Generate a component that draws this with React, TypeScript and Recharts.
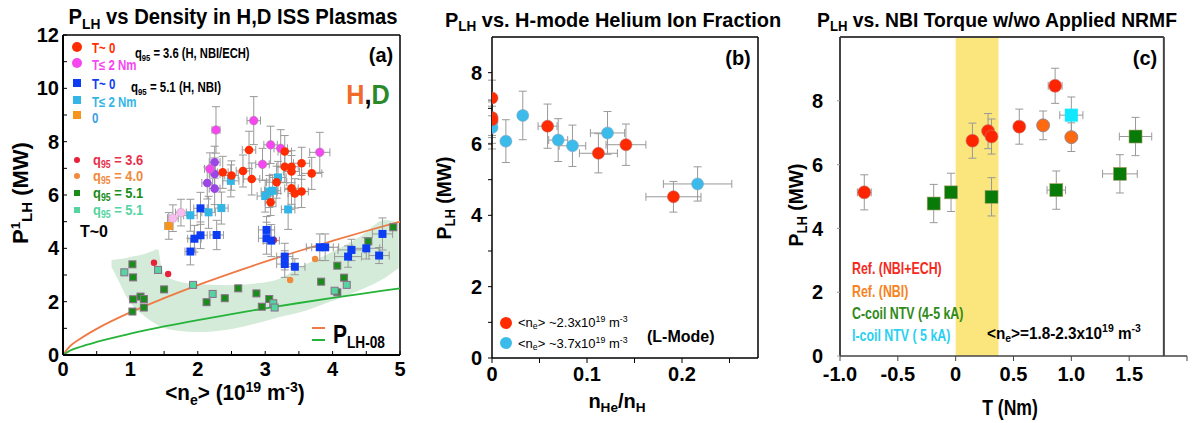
import React from 'react';
import { ComposedChart, Scatter, Line, Area, XAxis, YAxis, ErrorBar, ReferenceLine, ReferenceArea } from 'recharts';

const FONT = "'Liberation Sans', Arial, Helvetica, sans-serif";

// ---------- panel (a): P_LH vs density ----------
const aXTicks = [0, 0.5, 1, 1.5, 2, 2.5, 3, 3.5, 4, 4.5, 5];
const aYTicks = [0, 1, 2, 3, 4, 5, 6, 7, 8, 9, 10, 11, 12];

const aRedT0 = [
  { x: 2.37, y: 6.85, ex: 0.08, ey: 0.6 }, { x: 2.5, y: 6.73, ex: 0.1, ey: 0.55 },
  { x: 2.67, y: 6.9, ex: 0.1, ey: 0.6 }, { x: 2.76, y: 7.69, ex: 0.1, ey: 0.7 },
  { x: 2.8, y: 6.6, ex: 0.12, ey: 0.6 }, { x: 3.08, y: 5.73, ex: 0.08, ey: 0.5 },
  { x: 3.17, y: 6.48, ex: 0.15, ey: 0.6 }, { x: 3.29, y: 7.63, ex: 0.1, ey: 0.6 },
  { x: 3.29, y: 7.06, ex: 0.12, ey: 0.6 }, { x: 3.39, y: 7.06, ex: 0.1, ey: 0.6 },
  { x: 3.39, y: 6.88, ex: 0.12, ey: 0.6 }, { x: 3.39, y: 6.25, ex: 0.1, ey: 0.6 },
  { x: 3.44, y: 6.06, ex: 0.1, ey: 0.55 }, { x: 3.54, y: 7.19, ex: 0.12, ey: 0.6 },
  { x: 3.54, y: 6.13, ex: 0.1, ey: 0.6 }, { x: 3.69, y: 6.81, ex: 0.15, ey: 0.6 },
];
const aMagenta = [
  { x: 2.27, y: 8.44, ex: 0.06, ey: 0.87 }, { x: 2.83, y: 8.79, ex: 0.1, ey: 0.9 },
  { x: 3.08, y: 7.88, ex: 0.1, ey: 0.7 }, { x: 2.96, y: 7.15, ex: 0.1, ey: 0.6 },
  { x: 3.23, y: 7.75, ex: 0.1, ey: 0.7 }, { x: 3.81, y: 7.6, ex: 0.15, ey: 0.75 },
  { x: 2.18, y: 6.98, ex: 0.08, ey: 0.6 },
];
const aPurple = [
  { x: 2.25, y: 7.23, ex: 0.08, ey: 0.6 }, { x: 2.25, y: 6.79, ex: 0.08, ey: 0.6 },
  { x: 2.14, y: 6.45, ex: 0.08, ey: 0.6 }, { x: 2.25, y: 6.24, ex: 0.08, ey: 0.6 },
];
const aPink = [
  { x: 1.63, y: 5.13, ex: 0.08, ey: 0.5 }, { x: 1.75, y: 5.34, ex: 0.08, ey: 0.5 },
];
const aOrangeSq = [{ x: 1.57, y: 4.84, ex: 0.06, ey: 0.5 }];
const aCyanSq = [
  { x: 1.89, y: 5.24, ex: 0.1, ey: 0.6 }, { x: 2.16, y: 5.35, ex: 0.1, ey: 0.6 },
  { x: 2.35, y: 5.51, ex: 0.1, ey: 0.6 }, { x: 2.49, y: 6.53, ex: 0.12, ey: 0.6 },
  { x: 3.0, y: 5.96, ex: 0.12, ey: 0.6 }, { x: 3.06, y: 6.13, ex: 0.12, ey: 0.6 },
  { x: 3.11, y: 6.16, ex: 0.12, ey: 0.6 }, { x: 3.19, y: 6.66, ex: 0.12, ey: 0.6 },
  { x: 3.34, y: 5.46, ex: 0.1, ey: 0.75 },
];
const aBlueSq = [
  { x: 2.04, y: 5.5, ex: 0.1, ey: 0.6 }, { x: 1.95, y: 4.36, ex: 0.1, ey: 0.5 },
  { x: 2.04, y: 4.49, ex: 0.1, ey: 0.5 }, { x: 2.28, y: 4.5, ex: 0.1, ey: 0.55 },
  { x: 1.89, y: 3.88, ex: 0.08, ey: 0.5 }, { x: 3.02, y: 4.69, ex: 0.12, ey: 0.5 },
  { x: 3.02, y: 4.38, ex: 0.12, ey: 0.6 }, { x: 3.09, y: 4.29, ex: 0.12, ey: 0.6 },
  { x: 3.29, y: 3.69, ex: 0.12, ey: 0.5 }, { x: 3.29, y: 3.41, ex: 0.12, ey: 0.5 },
  { x: 3.44, y: 3.31, ex: 0.15, ey: 0.3 }, { x: 3.81, y: 4.04, ex: 0.2, ey: 0.5 },
  { x: 3.89, y: 4.04, ex: 0.2, ey: 0.5 }, { x: 4.23, y: 3.69, ex: 0.2, ey: 0.4 },
  { x: 4.28, y: 3.94, ex: 0.2, ey: 0.4 }, { x: 4.5, y: 4.0, ex: 0.2, ey: 0.4 },
  { x: 4.69, y: 3.73, ex: 0.15, ey: 0.3 }, { x: 4.74, y: 4.54, ex: 0.15, ey: 0.6 },
];
const aSmallRed = [{ x: 1.35, y: 3.46 }, { x: 1.56, y: 3.04 }, { x: 3.13, y: 4.31 }];
const aSmallOrange = [{ x: 3.37, y: 2.81 }, { x: 3.74, y: 3.6 }];
const aGreenSq = [
  { x: 1.03, y: 3.4 }, { x: 1.04, y: 2.91 }, { x: 1.04, y: 2.09 }, { x: 1.03, y: 1.63 },
  { x: 1.15, y: 2.19 }, { x: 1.2, y: 2.1 }, { x: 1.2, y: 1.78 }, { x: 1.5, y: 2.46 },
  { x: 2.13, y: 1.98 }, { x: 2.4, y: 2.13 }, { x: 2.6, y: 2.5 }, { x: 2.87, y: 2.31 },
  { x: 2.95, y: 1.81 }, { x: 3.06, y: 2.1 }, { x: 3.83, y: 2.75 }, { x: 4.07, y: 3.35 },
  { x: 4.07, y: 2.35 }, { x: 4.17, y: 2.9 }, { x: 4.53, y: 4.26 }, { x: 4.9, y: 4.79 },
];
const aLightGreenSq = [
  { x: 0.91, y: 3.1 }, { x: 1.41, y: 3.19 }, { x: 1.93, y: 2.63 }, { x: 2.22, y: 2.29 },
  { x: 3.12, y: 1.94 }, { x: 3.14, y: 1.78 }, { x: 4.03, y: 2.41 }, { x: 4.21, y: 2.63 },
];
// shaded band (low, high)
const aBand = [
  { x: 0.72, range: [3.3, 3.56] }, { x: 0.85, range: [2.65, 3.6] },
  { x: 0.94, range: [2.19, 3.64] }, { x: 1.05, range: [1.8, 3.7] },
  { x: 1.19, range: [1.5, 3.78] }, { x: 1.3, range: [1.28, 3.87] },
  { x: 1.41, range: [1.12, 3.97] }, { x: 1.46, range: [1.06, 3.3] },
  { x: 1.53, range: [0.99, 2.97] }, { x: 1.73, range: [0.9, 2.75] },
  { x: 2.0, range: [0.86, 2.65] }, { x: 2.43, range: [0.95, 2.62] },
  { x: 2.92, range: [1.22, 2.7] }, { x: 3.17, range: [1.4, 2.82] },
  { x: 3.52, range: [1.6, 3.3] }, { x: 3.91, range: [1.95, 3.76] },
  { x: 4.41, range: [2.44, 4.44] }, { x: 4.78, range: [2.9, 5.06] },
  { x: 4.98, range: [3.25, 4.94] },
];
const aFitH = [
  { x: 0, y: 0 }, { x: 0.1, y: 0.32 }, { x: 0.25, y: 0.6 }, { x: 0.5, y: 0.98 },
  { x: 1, y: 1.6 }, { x: 1.5, y: 2.13 }, { x: 2, y: 2.62 }, { x: 2.5, y: 3.07 },
  { x: 3, y: 3.5 }, { x: 3.5, y: 3.9 }, { x: 4, y: 4.28 }, { x: 4.5, y: 4.65 }, { x: 5, y: 5.0 },
];
const aFitD = [
  { x: 0, y: 0 }, { x: 0.1, y: 0.16 }, { x: 0.25, y: 0.3 }, { x: 0.5, y: 0.49 },
  { x: 1, y: 0.8 }, { x: 1.5, y: 1.07 }, { x: 2, y: 1.31 }, { x: 2.5, y: 1.53 },
  { x: 3, y: 1.75 }, { x: 3.5, y: 1.95 }, { x: 4, y: 2.14 }, { x: 4.5, y: 2.32 }, { x: 5, y: 2.5 },
];

// ---------- panel (b): P_LH vs helium fraction ----------
const bXTicks = [0, 0.05, 0.1, 0.15, 0.2, 0.25];
const bXLabels: Record<string, string> = { '0': '0', '0.1': '0.1', '0.2': '0.2' };
const bYTicks = [0, 1, 2, 3, 4, 5, 6, 7, 8];
const bRed = [
  { x: 0, y: 7.29, ex: 0, ey: 0.5 }, { x: 0, y: 6.74, ex: 0, ey: 0.5 },
  { x: 0, y: 6.68, ex: 0, ey: 0.5 }, { x: 0.0585, y: 6.5, ex: 0.01, ey: 0.62 },
  { x: 0.112, y: 5.74, ex: 0.02, ey: 0.55 }, { x: 0.141, y: 5.98, ex: 0.021, ey: 0.58 },
  { x: 0.191, y: 4.52, ex: 0.029, ey: 0.43 },
];
const bBlue = [
  { x: 0, y: 6.62, ex: 0, ey: 0.6 }, { x: 0, y: 6.46, ex: 0, ey: 0.6 },
  { x: 0.0146, y: 6.08, ex: 0, ey: 0.6 }, { x: 0.0324, y: 6.8, ex: 0, ey: 0.68 },
  { x: 0.0697, y: 6.11, ex: 0.01, ey: 0.6 }, { x: 0.0847, y: 5.95, ex: 0.014, ey: 0.58 },
  { x: 0.1216, y: 6.31, ex: 0.018, ey: 0.6 }, { x: 0.2164, y: 4.88, ex: 0.036, ey: 0.48 },
];

// ---------- panel (c): P_LH vs NBI torque ----------
const cXTicks = [-1, -0.5, 0, 0.5, 1, 1.5, 2];
const cXLabels: Record<string, string> = { '-1': '-1.0', '-0.5': '-0.5', '0': '0', '0.5': '0.5', '1': '1.0', '1.5': '1.5' };
const cYTicks = [0, 2, 4, 6, 8];
const cRed = [
  { x: -0.79, y: 5.13, ex: 0.06, ey: 0.55 }, { x: 0.145, y: 6.75, ex: 0.02, ey: 0.55 },
  { x: 0.28, y: 7.05, ex: 0.02, ey: 0.55 }, { x: 0.31, y: 6.88, ex: 0.02, ey: 0.55 },
  { x: 0.55, y: 7.19, ex: 0.03, ey: 0.55 }, { x: 0.86, y: 8.47, ex: 0.06, ey: 0.55 },
];
const cOrange = [{ x: 0.756, y: 7.23, ex: 0.02, ey: 0.45 }, { x: 1.0, y: 6.86, ex: 0.02, ey: 0.45 }];
const cCyan = [{ x: 1.0, y: 7.55, ex: 0.1, ey: 0.57 }];
const cGreen = [
  { x: -0.19, y: 4.78, ex: 0.02, ey: 0.6 }, { x: -0.04, y: 5.13, ex: 0.02, ey: 0.6 },
  { x: 0.31, y: 4.99, ex: 0.02, ey: 0.6 }, { x: 0.87, y: 5.2, ex: 0.08, ey: 0.6 },
  { x: 1.42, y: 5.71, ex: 0.15, ey: 0.6 }, { x: 1.555, y: 6.88, ex: 0.14, ey: 0.6 },
];

// ---------- helpers ----------
const circle = (r: number, fill: string, stroke = 'none', sw = 0) => (p: any) =>
  <circle cx={p.cx} cy={p.cy} r={r} fill={fill} stroke={stroke} strokeWidth={sw} />;
const square = (s: number, fill: string, stroke = 'none', sw = 0) => (p: any) =>
  <rect x={p.cx - s / 2} y={p.cy - s / 2} width={s} height={s} fill={fill} stroke={stroke} strokeWidth={sw} />;

const errs = (
  [<ErrorBar key="ey" dataKey="ey" direction="y" width={4} stroke="#999" strokeWidth={1} />,
   <ErrorBar key="ex" dataKey="ex" direction="x" width={4} stroke="#999" strokeWidth={1} />]
);

const Sub = ({ children, s = 0.68, d = -0.3 }: any) =>
  <span style={{ fontSize: `${s}em`, verticalAlign: `${d}em` }}>{children}</span>;
const Sup = ({ children, s = 0.68, d = 0.55 }: any) =>
  <span style={{ fontSize: `${s}em`, verticalAlign: `${d}em` }}>{children}</span>;

function Txt({ x, y, size = 14, color = '#000', weight = 700, align = 'left', sx = 1, rotate = false, children }: any) {
  const tx = align === 'center' ? -50 : align === 'right' ? -100 : 0;
  const origin = align === 'center' ? '50% 50%' : align === 'right' ? '100% 50%' : '0 50%';
  return (
    <div style={{
      position: 'absolute', left: x, top: y, whiteSpace: 'nowrap', lineHeight: 1,
      fontFamily: FONT, fontSize: size, fontWeight: weight, color,
      transform: `translate(${tx}%, -50%) ${rotate ? 'rotate(-90deg)' : ''} scaleX(${sx})`,
      transformOrigin: origin,
    }}>{children}</div>
  );
}

function Mark({ x, y, s, color, round }: any) {
  return <div style={{ position: 'absolute', left: x - s / 2, top: y - s / 2, width: s, height: s, background: color, borderRadius: round ? '50%' : 0 }} />;
}

const tickStyle = { fontSize: 20, fontWeight: 700, fill: '#000', fontFamily: FONT };

function PanelA() {
  return (
    <ComposedChart width={410} height={423} data={aBand} margin={{ top: 35, right: 10, bottom: 38, left: 23 }}>
      <XAxis type="number" dataKey="x" domain={[0, 5]} ticks={aXTicks} interval={0} height={30}
        tickFormatter={(v: number) => (Number.isInteger(v) ? String(v) : '')}
        tickSize={-4} tickMargin={11} tick={tickStyle}
        axisLine={{ stroke: '#000', strokeWidth: 2 }} tickLine={{ stroke: '#000' }} />
      <YAxis type="number" dataKey="y" domain={[0, 12]} ticks={aYTicks} interval={0} width={40}
        tickFormatter={(v: number) => (v % 2 === 0 ? String(v) : '')}
        tickSize={-4} tickMargin={8} tick={tickStyle}
        axisLine={{ stroke: '#000', strokeWidth: 2 }} tickLine={{ stroke: '#000' }} />
      <Area dataKey="range" type="monotone" fill="#d3ebd8" fillOpacity={1} stroke="none" isAnimationActive={false} />
      <ReferenceLine y={12} stroke="#000" strokeWidth={1.5} />
      <ReferenceLine x={5} stroke="#000" strokeWidth={1.5} />
      <Line data={aFitH} dataKey="y" type="monotone" stroke="#ef7a45" strokeWidth={1.8} dot={false} isAnimationActive={false} />
      <Line data={aFitD} dataKey="y" type="monotone" stroke="#25b33a" strokeWidth={1.8} dot={false} isAnimationActive={false} />
      <Scatter data={aGreenSq} shape={square(7, '#1a8c1a', '#8c6c8c', 1)} isAnimationActive={false} />
      <Scatter data={aLightGreenSq} shape={square(7, '#55d4a0', '#8c6c8c', 1)} isAnimationActive={false} />
      <Scatter data={aSmallRed} shape={circle(3.2, '#e8203a')} isAnimationActive={false} />
      <Scatter data={aSmallOrange} shape={circle(3.2, '#f08a3c')} isAnimationActive={false} />
      <Scatter data={aBlueSq} shape={square(8, '#0d3cf5')} isAnimationActive={false}>{errs}</Scatter>
      <Scatter data={aCyanSq} shape={square(8, '#33b5e5')} isAnimationActive={false}>{errs}</Scatter>
      <Scatter data={aOrangeSq} shape={square(8, '#f7941d')} isAnimationActive={false}>{errs}</Scatter>
      <Scatter data={aPink} shape={circle(4.3, '#f8bdf0', '#c9a0c0', 0.6)} isAnimationActive={false}>{errs}</Scatter>
      <Scatter data={aPurple} shape={circle(4.3, '#9b45e6')} isAnimationActive={false}>{errs}</Scatter>
      <Scatter data={aMagenta} shape={circle(4.3, '#f546f0', '#b080b0', 0.6)} isAnimationActive={false}>{errs}</Scatter>
      <Scatter data={aRedT0} shape={circle(4.3, '#ff2d00')} isAnimationActive={false}>{errs}</Scatter>
    </ComposedChart>
  );
}

function PanelB() {
  return (
    <ComposedChart width={360} height={423} margin={{ top: 37, right: 12, bottom: 35, left: 42 }}>
      <XAxis type="number" dataKey="x" domain={[0, 0.28]} ticks={bXTicks} interval={0} height={30}
        tickFormatter={(v: number) => bXLabels[String(v)] ?? ''} allowDataOverflow
        tickSize={5} tickMargin={4} tick={tickStyle}
        axisLine={{ stroke: '#000', strokeWidth: 1.5 }} tickLine={{ stroke: '#000' }} />
      <YAxis type="number" dataKey="y" domain={[0, 9]} ticks={bYTicks} interval={0} width={40}
        tickFormatter={(v: number) => (v % 2 === 0 ? String(v) : '')}
        tickSize={4} tickMargin={6} tick={tickStyle}
        axisLine={{ stroke: '#000', strokeWidth: 1.5 }} tickLine={{ stroke: '#000' }} />
      <ReferenceLine y={9} stroke="#000" strokeWidth={1.5} />
      <ReferenceLine x={0.28} stroke="#000" strokeWidth={1.5} />
      <Scatter data={bBlue} shape={circle(6, '#3bbbea', '#8aa6c0', 0.6)} isAnimationActive={false}>{errs}</Scatter>
      <Scatter data={bRed} shape={circle(6, '#ff2a00', '#c06060', 0.6)} isAnimationActive={false}>{errs}</Scatter>
    </ComposedChart>
  );
}

function PanelC() {
  return (
    <ComposedChart width={423} height={423} margin={{ top: 37, right: 6, bottom: 37, left: 30 }}>
      <XAxis type="number" dataKey="x" domain={[-1, 2]} ticks={cXTicks} interval={0} height={30}
        tickFormatter={(v: number) => cXLabels[String(v)] ?? ''}
        tickSize={5} tickMargin={6} tick={{ ...tickStyle, fontSize: 20 }}
        axisLine={{ stroke: '#444', strokeWidth: 1.5 }} tickLine={{ stroke: '#444' }} />
      <YAxis type="number" dataKey="y" domain={[0, 10]} ticks={cYTicks} interval={0} width={40}
        tickSize={3} tickMargin={14} tick={tickStyle}
        axisLine={{ stroke: '#444', strokeWidth: 2 }} tickLine={{ stroke: '#999' }} />
      <ReferenceArea x1={0} x2={0.37} y1={0} y2={10} fill="#fae67c" fillOpacity={1} stroke="none" />
      <ReferenceLine segment={[{ x: -1, y: 10 }, { x: 1.8, y: 10 }]} stroke="#444" strokeWidth={2} />
      <ReferenceLine segment={[{ x: 1.8, y: 0 }, { x: 1.8, y: 10 }]} stroke="#444" strokeWidth={2} />
      <Scatter data={cGreen} shape={square(13, '#087a08', '#b0a070', 0.6)} isAnimationActive={false}>{errs}</Scatter>
      <Scatter data={cRed} shape={circle(6.5, '#ff2400', '#c08080', 0.6)} isAnimationActive={false}>{errs}</Scatter>
      <Scatter data={cOrange} shape={circle(6.5, '#ff6a10', '#8080a0', 0.8)} isAnimationActive={false}>{errs}</Scatter>
      <Scatter data={cCyan} shape={square(13, '#10e8ff')} isAnimationActive={false}>{errs}</Scatter>
    </ComposedChart>
  );
}

export default function App() {
  return (
    <div style={{ position: 'relative', width: 1193, height: 423, background: '#fff', overflow: 'hidden', fontFamily: FONT }}>
      <style>{'body{margin:0}'}</style>
      <div style={{ position: 'absolute', left: 0, top: 0 }}><PanelA /></div>
      <div style={{ position: 'absolute', left: 410, top: 0 }}><PanelB /></div>
      <div style={{ position: 'absolute', left: 770, top: 0 }}><PanelC /></div>

      {/* panel (a) texts */}
      <Txt x={233} y={19} size={22} align="center" sx={0.92}>P<Sub>LH</Sub> vs Density in H,D ISS Plasmas</Txt>
      <Txt x={381} y={55} size={20} align="center">(a)</Txt>
      <Txt x={368} y={95} size={28} align="center" sx={0.9}><span style={{ color: '#f26a2a' }}>H</span>,<span style={{ color: '#2a8a2a' }}>D</span></Txt>
      <Txt x={22} y={193} size={22} align="center" rotate>P<Sup s={0.6} d={0.6}>1</Sup><Sub>LH</Sub> (MW)</Txt>
      <Txt x={235} y={394} size={22} align="center" sx={0.94}>&lt;n<Sub>e</Sub>&gt; (10<Sup>19</Sup> m<Sup>-3</Sup>)</Txt>

      <Mark x={77} y={47} s={10} color="#ff2d00" round />
      <Txt x={92} y={48} size={14} color="#ff2d00" sx={0.82}>T~ 0</Txt>
      <Mark x={77} y={63} s={10} color="#f546f0" round />
      <Txt x={92} y={65} size={14} color="#f546f0" sx={0.82}>T≤ 2 Nm</Txt>
      <Txt x={135} y={54} size={14} sx={0.8}>q<Sub>95</Sub> = 3.6 (H, NBI/ECH)</Txt>
      <Mark x={77} y={83} s={8} color="#0d3cf5" />
      <Txt x={92} y={84} size={14} color="#0d3cf5" sx={0.82}>T~ 0</Txt>
      <Txt x={131} y={88} size={14} sx={0.82}>q<Sub>95</Sub> = 5.1 (H, NBI)</Txt>
      <Mark x={77} y={100} s={8} color="#33b5e5" />
      <Txt x={92} y={102} size={14} color="#33b5e5" sx={0.82}>T≤ 2 Nm</Txt>
      <Mark x={77} y={115} s={8} color="#f7941d" />
      <Txt x={92} y={118} size={14} color="#3aa0e0" sx={0.82}>0</Txt>

      <Mark x={77} y={160} s={6} color="#e8203a" round />
      <Txt x={93} y={161} size={15} color="#e8304a" sx={0.86}>q<Sub>95</Sub> = 3.6</Txt>
      <Mark x={77} y={176} s={6} color="#f08a3c" round />
      <Txt x={93} y={177} size={15} color="#f08a3c" sx={0.86}>q<Sub>95</Sub> = 4.0</Txt>
      <Mark x={77} y={193} s={6} color="#1a8c1a" />
      <Txt x={93} y={194} size={15} color="#1a8c1a" sx={0.86}>q<Sub>95</Sub> = 5.1</Txt>
      <Mark x={77} y={210} s={6} color="#55d4a0" />
      <Txt x={93} y={211} size={15} color="#55d4a0" sx={0.86}>q<Sub>95</Sub> = 5.1</Txt>
      <Txt x={80} y={232} size={16}>T~0</Txt>

      <div style={{ position: 'absolute', left: 312, top: 327, width: 13, height: 2, background: '#ef7a45' }} />
      <div style={{ position: 'absolute', left: 312, top: 339, width: 13, height: 2, background: '#25b33a' }} />
      <Txt x={333} y={336} size={25} sx={0.84}>P<Sub s={0.65} d={-0.35}>LH-08</Sub></Txt>

      {/* panel (b) texts */}
      <Txt x={613} y={21} size={21} align="center" sx={0.95}>P<Sub>LH</Sub> vs. H-mode Helium Ion Fraction</Txt>
      <Txt x={738} y={58} size={20} align="center">(b)</Txt>
      <Txt x={445} y={198} size={21} align="center" rotate sx={0.92}>P<Sub>LH</Sub> (MW)</Txt>
      <Txt x={617} y={403} size={20} align="center">n<Sub>He</Sub>/n<Sub>H</Sub></Txt>
      <Mark x={506} y={323} s={12} color="#ff2a00" round />
      <Txt x={518} y={323} size={13} weight={400}>&lt;n<Sub>e</Sub>&gt; ~2.3x10<Sup>19</Sup> m<Sup>-3</Sup></Txt>
      <Mark x={506} y={343} s={12} color="#3bbbea" round />
      <Txt x={518} y={344} size={13} weight={400}>&lt;n<Sub>e</Sub>&gt; ~3.7x10<Sup>19</Sup> m<Sup>-3</Sup></Txt>
      <Txt x={647} y={337} size={16}>(L-Mode)</Txt>

      {/* panel (c) texts */}
      <Txt x={997} y={21} size={21} align="center" sx={0.92}>P<Sub>LH</Sub> vs. NBI Torque w/wo Applied NRMF</Txt>
      <Txt x={1145} y={58} size={20} align="center">(c)</Txt>
      <Txt x={797} y={205} size={21} align="center" rotate sx={0.92}>P<Sub>LH</Sub> (MW)</Txt>
      <Txt x={1010} y={408} size={22} align="center" sx={0.8}>T (Nm)</Txt>
      <Txt x={852} y={268} size={16.5} color="#f42a1e" sx={0.75}>Ref. (NBI+ECH)</Txt>
      <Txt x={852} y={291} size={16.5} color="#f7821e" sx={0.75}>Ref. (NBI)</Txt>
      <Txt x={852} y={313} size={16.5} color="#2f8a1a" sx={0.75}>C-coil NTV (4-5 kA)</Txt>
      <Txt x={852} y={335} size={16.5} color="#2ad0f0" sx={0.75}>I-coil NTV ( 5 kA)</Txt>
      <Txt x={987} y={334} size={17} sx={0.9}>&lt;n<Sub>e</Sub>&gt;=1.8-2.3x10<Sup>19</Sup> m<Sup>-3</Sup></Txt>
    </div>
  );
}
